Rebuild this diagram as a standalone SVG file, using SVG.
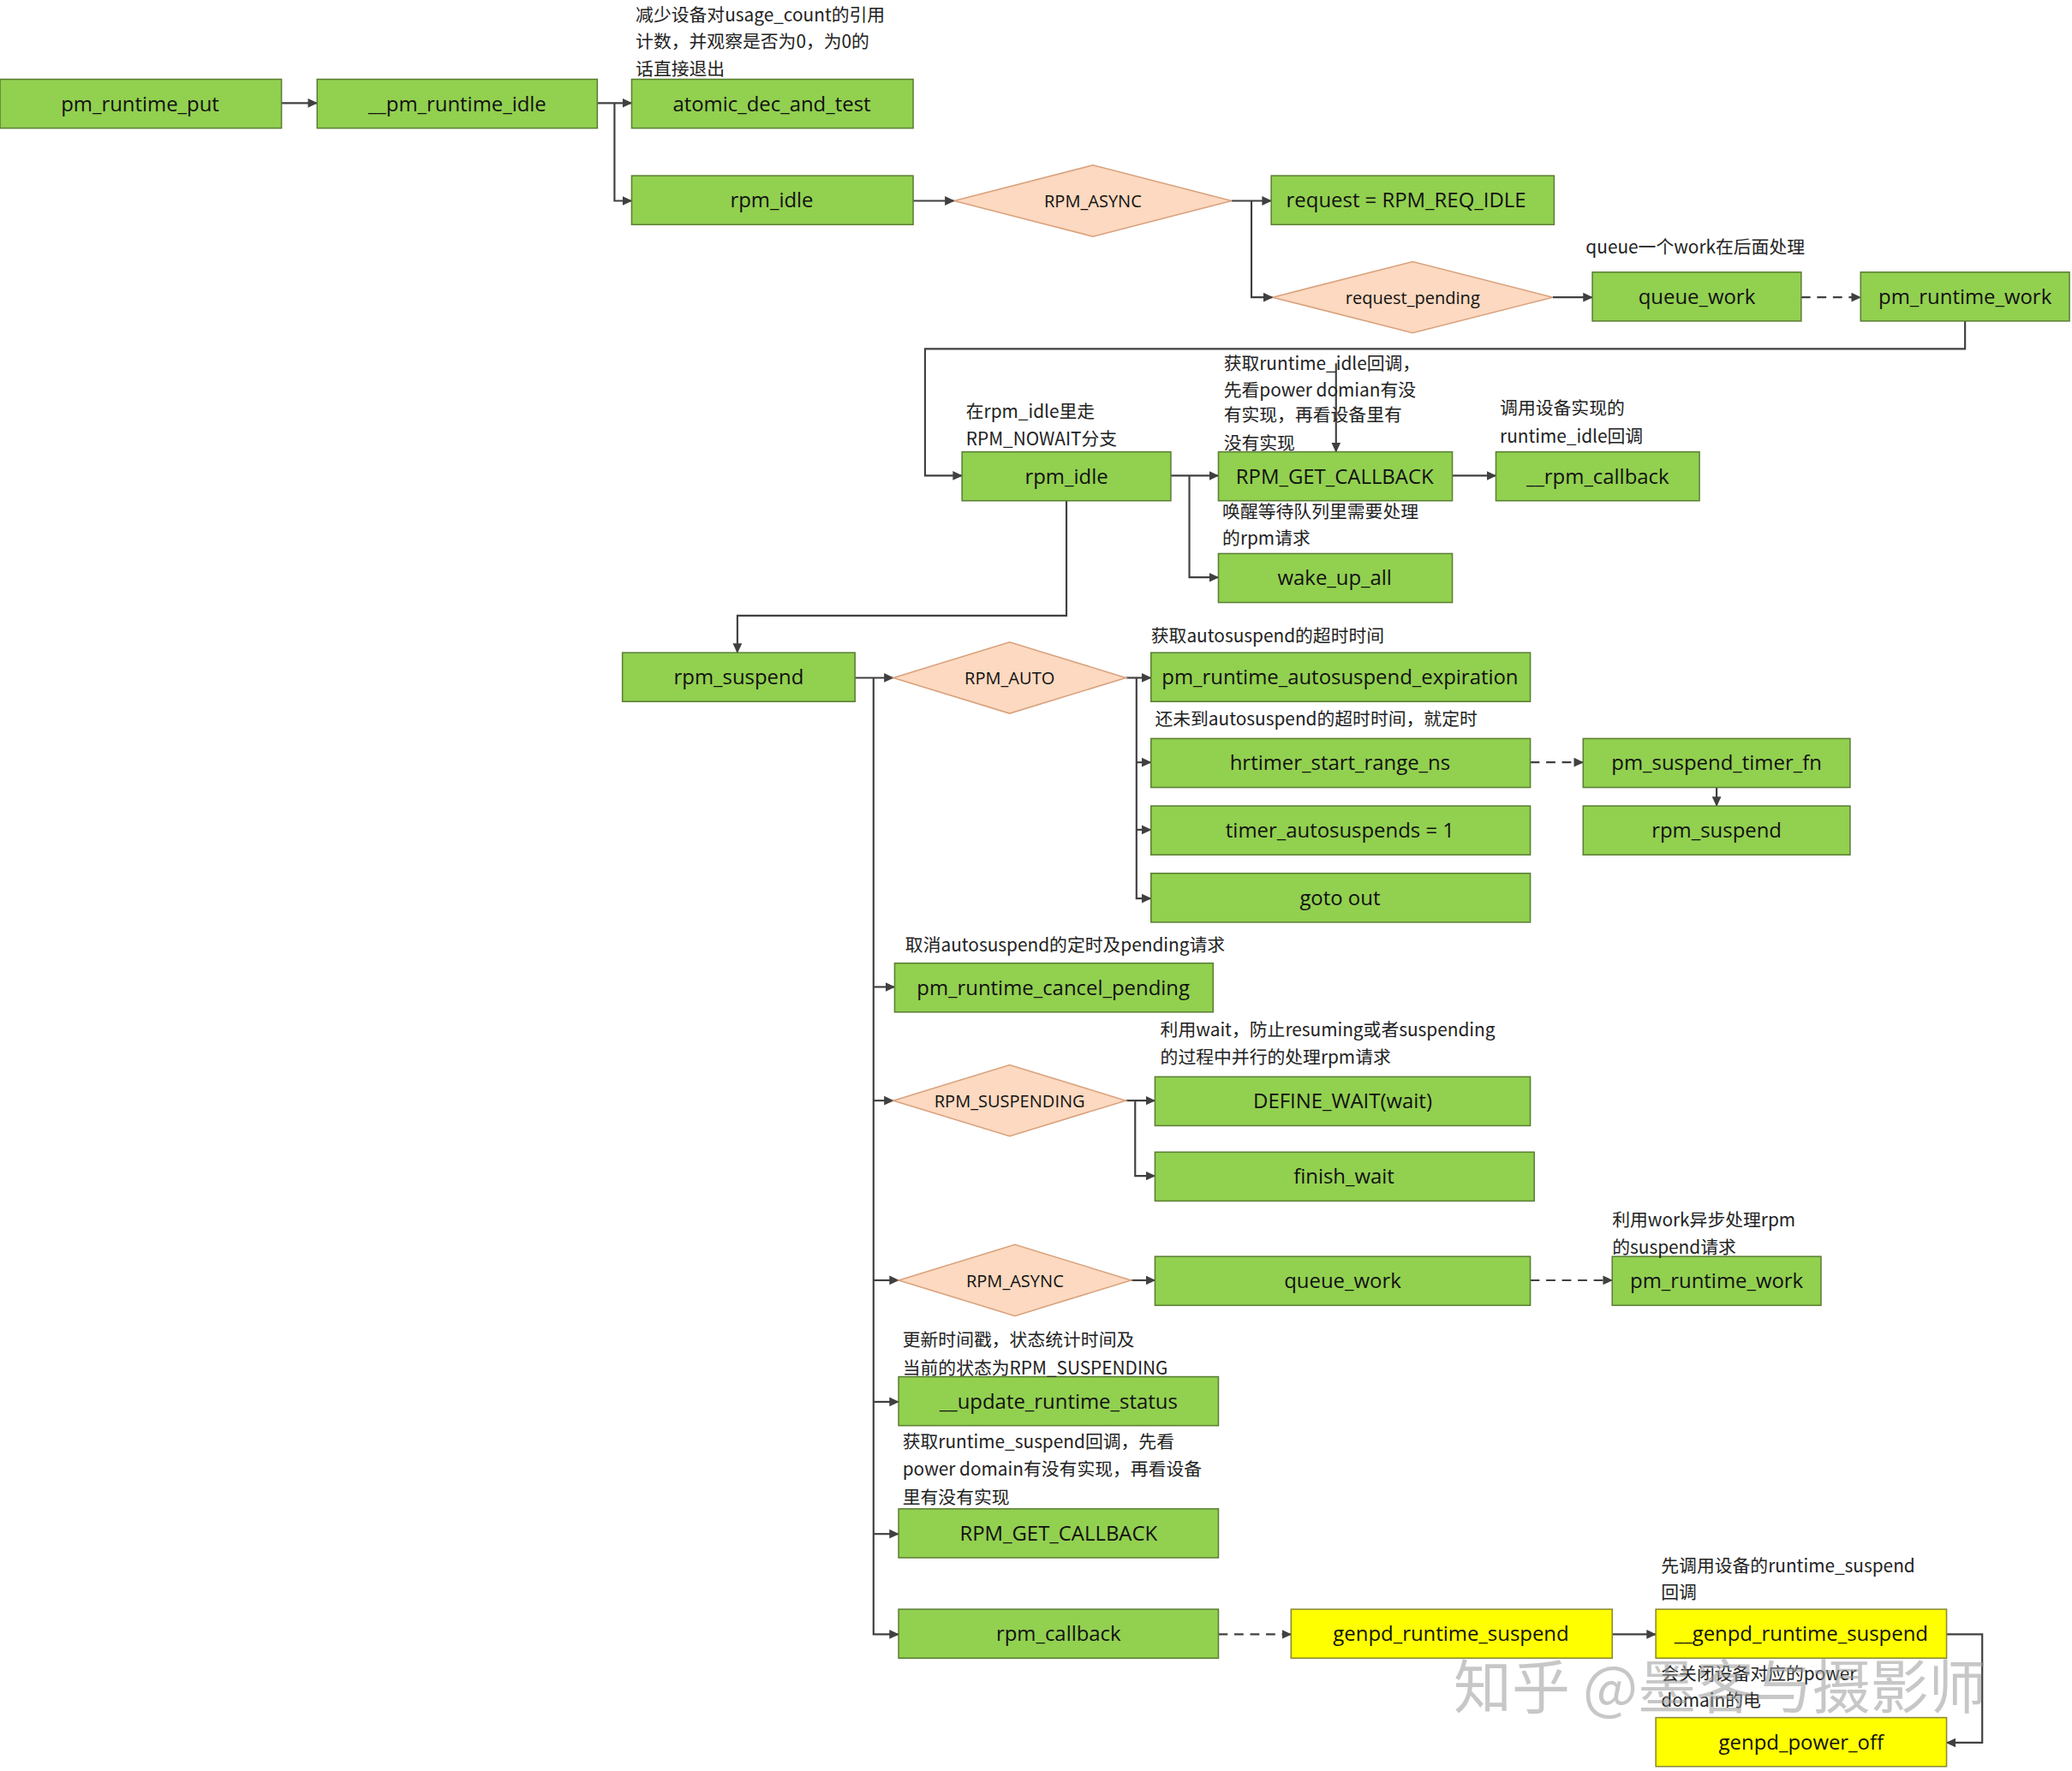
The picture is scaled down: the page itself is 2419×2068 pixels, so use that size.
<svg xmlns="http://www.w3.org/2000/svg" width="2419" height="2068" viewBox="0 0 2419 2068">
<style>
.b rect{fill:#92D050;stroke:#5b7f33;stroke-width:1}
.y rect{fill:#FFFF00;stroke:#8a8a30;stroke-width:1}
.d polygon{fill:#FCD9C0;stroke:#d9a17c;stroke-width:1}
.b text,.y text{font-family:"Open Sans","Noto Sans CJK SC",sans-serif;font-size:15.5px;text-anchor:middle;fill:#111}
.d text{font-family:"Open Sans","Noto Sans CJK SC",sans-serif;font-size:13px;text-anchor:middle;fill:#111}
.n{font-family:"Noto Sans CJK SC","Open Sans",sans-serif;font-size:13.5px;fill:#222}
.c path{fill:none;stroke:#404040;stroke-width:1.4}
.c .ds{stroke-dasharray:7 5}
</style>
<defs>
<marker id="a" markerWidth="8" markerHeight="8" refX="7" refY="4" orient="auto" markerUnits="userSpaceOnUse"><path d="M0,0.5 L7.5,4 L0,7.5 Z" fill="#404040"/></marker>
</defs>
<rect width="2419" height="2068" fill="#fff"/>
<g transform="scale(1.5428)">
<g class="c">
<path d="M213,78H240" marker-end="url(#a)"/>
<path d="M452,78H478" marker-end="url(#a)"/>
<path d="M465,78V152H478" marker-end="url(#a)"/>
<path d="M691,152H722" marker-end="url(#a)"/>
<path d="M932,152H962" marker-end="url(#a)"/>
<path d="M947,152V225H963" marker-end="url(#a)"/>
<path d="M1175,225H1205" marker-end="url(#a)"/>
<path class="ds" d="M1363,225H1408" marker-end="url(#a)"/>
<path d="M1487,243V264H700V360H728" marker-end="url(#a)"/>
<path d="M886,360H922" marker-end="url(#a)"/>
<path d="M900,360V437H922" marker-end="url(#a)"/>
<path d="M1011,275V342" marker-end="url(#a)"/>
<path d="M1099,360H1132" marker-end="url(#a)"/>
<path d="M807,379V466H558V494" marker-end="url(#a)"/>
<path d="M647,513H676" marker-end="url(#a)"/>
<path d="M661,513V1237H680" marker-end="url(#a)"/>
<path d="M661,747H677" marker-end="url(#a)"/>
<path d="M661,833H676" marker-end="url(#a)"/>
<path d="M661,969H680" marker-end="url(#a)"/>
<path d="M661,1061H680" marker-end="url(#a)"/>
<path d="M661,1161H680" marker-end="url(#a)"/>
<path d="M852,513H871" marker-end="url(#a)"/>
<path d="M860,513V680H871" marker-end="url(#a)"/>
<path d="M860,577H871" marker-end="url(#a)"/>
<path d="M860,628H871" marker-end="url(#a)"/>
<path class="ds" d="M1158,577H1198" marker-end="url(#a)"/>
<path d="M1299,596V610" marker-end="url(#a)"/>
<path d="M852,833H874" marker-end="url(#a)"/>
<path d="M859,833V890H874" marker-end="url(#a)"/>
<path d="M856,969H874" marker-end="url(#a)"/>
<path class="ds" d="M1158,969H1220" marker-end="url(#a)"/>
<path class="ds" d="M922,1237H977" marker-end="url(#a)"/>
<path d="M1220,1237H1253" marker-end="url(#a)"/>
<path d="M1473,1237H1500V1319H1473" marker-end="url(#a)"/>
</g>
<g id="n1" class="b"><rect x="0" y="60" width="213" height="37"/><text x="106" y="84">pm_runtime_put</text></g>
<g id="n2" class="b"><rect x="240" y="60" width="212" height="37"/><text x="346" y="84">__pm_runtime_idle</text></g>
<g id="n3" class="b"><rect x="478" y="60" width="213" height="37"/><text x="584" y="84">atomic_dec_and_test</text></g>
<g id="n4" class="b"><rect x="478" y="133" width="213" height="37"/><text x="584" y="157">rpm_idle</text></g>
<g id="n5" class="b"><rect x="962" y="133" width="214" height="37"/><text x="1064" y="157">request = RPM_REQ_IDLE</text></g>
<g id="n6" class="b"><rect x="1205" y="206" width="158" height="37"/><text x="1284" y="230">queue_work</text></g>
<g id="n7" class="b"><rect x="1408" y="206" width="158" height="37"/><text x="1487" y="230">pm_runtime_work</text></g>
<g id="n8" class="b"><rect x="728" y="342" width="158" height="37"/><text x="807" y="366">rpm_idle</text></g>
<g id="n9" class="b"><rect x="922" y="342" width="177" height="37"/><text x="1010" y="366">RPM_GET_CALLBACK</text></g>
<g id="n10" class="b"><rect x="1132" y="342" width="154" height="37"/><text x="1209" y="366">__rpm_callback</text></g>
<g id="n11" class="b"><rect x="922" y="419" width="177" height="37"/><text x="1010" y="443">wake_up_all</text></g>
<g id="n12" class="b"><rect x="471" y="494" width="176" height="37"/><text x="559" y="518">rpm_suspend</text></g>
<g id="n13" class="b"><rect x="871" y="494" width="287" height="37"/><text x="1014" y="518">pm_runtime_autosuspend_expiration</text></g>
<g id="n14" class="b"><rect x="871" y="559" width="287" height="37"/><text x="1014" y="583">hrtimer_start_range_ns</text></g>
<g id="n15" class="b"><rect x="1198" y="559" width="202" height="37"/><text x="1299" y="583">pm_suspend_timer_fn</text></g>
<g id="n16" class="b"><rect x="1198" y="610" width="202" height="37"/><text x="1299" y="634">rpm_suspend</text></g>
<g id="n17" class="b"><rect x="871" y="610" width="287" height="37"/><text x="1014" y="634">timer_autosuspends = 1</text></g>
<g id="n18" class="b"><rect x="871" y="661" width="287" height="37"/><text x="1014" y="685">goto out</text></g>
<g id="n19" class="b"><rect x="677" y="729" width="241" height="37"/><text x="797" y="753">pm_runtime_cancel_pending</text></g>
<g id="n20" class="b"><rect x="874" y="815" width="284" height="37"/><text x="1016" y="839">DEFINE_WAIT(wait)</text></g>
<g id="n21" class="b"><rect x="874" y="872" width="287" height="37"/><text x="1017" y="896">finish_wait</text></g>
<g id="n22" class="b"><rect x="874" y="951" width="284" height="37"/><text x="1016" y="975">queue_work</text></g>
<g id="n23" class="b"><rect x="1220" y="951" width="158" height="37"/><text x="1299" y="975">pm_runtime_work</text></g>
<g id="n24" class="b"><rect x="680" y="1042" width="242" height="37"/><text x="801" y="1066">__update_runtime_status</text></g>
<g id="n25" class="b"><rect x="680" y="1142" width="242" height="37"/><text x="801" y="1166">RPM_GET_CALLBACK</text></g>
<g id="n26" class="b"><rect x="680" y="1218" width="242" height="37"/><text x="801" y="1242">rpm_callback</text></g>
<g id="n27" class="y"><rect x="977" y="1218" width="243" height="37"/><text x="1098" y="1242">genpd_runtime_suspend</text></g>
<g id="n28" class="y"><rect x="1253" y="1218" width="220" height="37"/><text x="1363" y="1242">__genpd_runtime_suspend</text></g>
<g id="n29" class="y"><rect x="1253" y="1300" width="220" height="37"/><text x="1363" y="1324">genpd_power_off</text></g>
<g id="d1" class="d"><polygon points="722,152 827,125 932,152 827,179"/><text x="827" y="157">RPM_ASYNC</text></g>
<g id="d2" class="d"><polygon points="963,225 1069,198 1175,225 1069,252"/><text x="1069" y="230">request_pending</text></g>
<g id="d3" class="d"><polygon points="676,513 764,486 852,513 764,540"/><text x="764" y="518">RPM_AUTO</text></g>
<g id="d4" class="d"><polygon points="676,833 764,806 852,833 764,860"/><text x="764" y="838">RPM_SUSPENDING</text></g>
<g id="d5" class="d"><polygon points="680,969 768,942 856,969 768,996"/><text x="768" y="974">RPM_ASYNC</text></g>
<g class="n">
<text x="481" y="16">减少设备对usage_count的引用</text>
<text x="481" y="36">计数，并观察是否为0，为0的</text>
<text x="481" y="57">话直接退出</text>
<text x="1200" y="192">queue一个work在后面处理</text>
<text x="926" y="280">获取runtime_idle回调，</text>
<text x="926" y="300">先看power domian有没</text>
<text x="926" y="319">有实现，再看设备里有</text>
<text x="926" y="340">没有实现</text>
<text x="731" y="316">在rpm_idle里走</text>
<text x="731" y="337">RPM_NOWAIT分支</text>
<text x="1135" y="314">调用设备实现的</text>
<text x="1135" y="335">runtime_idle回调</text>
<text x="925" y="392">唤醒等待队列里需要处理</text>
<text x="925" y="412">的rpm请求</text>
<text x="871" y="486">获取autosuspend的超时时间</text>
<text x="874" y="549">还未到autosuspend的超时时间，就定时</text>
<text x="685" y="720">取消autosuspend的定时及pending请求</text>
<text x="878" y="784">利用wait，防止resuming或者suspending</text>
<text x="878" y="805">的过程中并行的处理rpm请求</text>
<text x="1220" y="928">利用work异步处理rpm</text>
<text x="1220" y="949">的suspend请求</text>
<text x="683" y="1019">更新时间戳，状态统计时间及</text>
<text x="683" y="1040">当前的状态为RPM_SUSPENDING</text>
<text x="683" y="1096">获取runtime_suspend回调，先看</text>
<text x="683" y="1117">power domain有没有实现，再看设备</text>
<text x="683" y="1138">里有没有实现</text>
<text x="1257" y="1190">先调用设备的runtime_suspend</text>
<text x="1257" y="1210">回调</text>
<text x="1257" y="1272">会关闭设备对应的power</text>
<text x="1257" y="1292">domain的电</text>
</g>
<text x="1100" y="1293" font-family="Noto Sans CJK SC,sans-serif" font-size="44" fill="#999" fill-opacity="0.55">知乎 @墨客与摄影师</text>
</g>
</svg>
